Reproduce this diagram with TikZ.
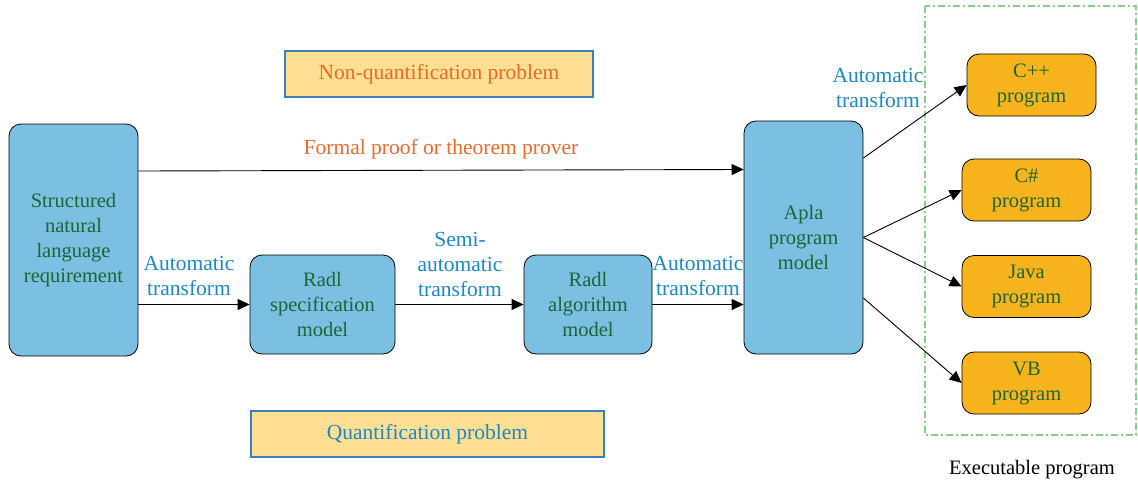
\documentclass[tikz,border=0pt]{standalone}
\usepackage{fontspec}
\setmainfont{Liberation Serif}
\usetikzlibrary{arrows.meta}

\definecolor{boxblue}{HTML}{7BBFE3}
\definecolor{boxorange}{HTML}{F8B41C}
\definecolor{probfill}{HTML}{FFDF91}
\definecolor{probline}{HTML}{3A7FC4}
\definecolor{textgreen}{HTML}{1F6433}
\definecolor{labelblue}{HTML}{1A88C9}
\definecolor{labelorange}{HTML}{EB6A2A}
\definecolor{dashgreen}{HTML}{86CF86}

\begin{document}
\begin{tikzpicture}[x=1pt,y=-1pt,->,>={Triangle[length=12pt,width=11pt]},
  line width=0.9pt,font=\fontsize{20.5}{25}\selectfont,
  model node/.style={draw=black,fill=boxblue,rounded corners=12pt,
    line width=0.8pt,text=textgreen,align=center,inner sep=0pt},
  lang node/.style={draw=black,fill=boxorange,rounded corners=12pt,
    line width=0.8pt,text=textgreen,align=center,inner sep=0pt,
    minimum width=129pt,minimum height=62pt},
  prob node/.style={draw=probline,fill=probfill,line width=1.4pt,
    inner sep=0pt,minimum height=46pt,font=\fontsize{21.5}{25}\selectfont},
  trans label/.style={text=labelblue,align=center,inner sep=0pt,
    font=\fontsize{21.5}{25}\selectfont}]

  \useasboundingbox (0,0) rectangle (1138,485);

  % executable program frame
  \draw[-,dashgreen,line width=1.5pt,
    dash pattern=on 7pt off 3pt on 2pt off 3pt]
    (925,6) rectangle (1136,435);
  \node[inner sep=0pt] (exe) at (1032,470) {Executable program};

  \node[model node,minimum width=129pt,minimum height=232pt]
    (snl) at (73.5,240) {Structured\\natural\\language\\requirement};
  \node[model node,minimum width=145pt,minimum height=99pt]
    (rspec) at (322.5,304.5) {Radl\\specification\\model};
  \node[model node,minimum width=128pt,minimum height=99pt]
    (ralg) at (588,304.5) {Radl\\algorithm\\model};
  \node[model node,minimum width=119pt,minimum height=233pt]
    (apla) at (803.5,237.5) {Apla\\program\\model};

  \node[lang node] (cpp) at (1031.5,85) {C++\\program};
  \node[lang node] (csh) at (1026.5,190) {C\#\\program};
  \node[lang node] (java) at (1026.5,286.5) {Java\\program};
  \node[lang node] (vb) at (1026.5,383) {VB\\program};

  \node[prob node,minimum width=308pt,text=labelorange]
    (nonq) at (439,74) {Non-quantification problem};
  \node[prob node,minimum width=353pt,text=labelblue]
    (quant) at (427.5,434) {Quantification problem};

  % transforms along the chain
  \draw (snl.east |- rspec.west) -- (rspec.west);
  \draw (rspec) -- (ralg);
  \draw (ralg) -- (apla.west |- ralg.east);
  \draw ([yshift=69pt]snl.east) -- ([yshift=68pt]apla.west);

  \node[trans label] (t1) at (189,276) {Automatic\\transform};
  \node[trans label] (t2) at (460,264) {Semi-\\automatic\\transform};
  \node[trans label] (t3) at (698,276) {Automatic\\transform};
  \node[trans label] (t4) at (878,88) {Automatic\\transform};
  \node[trans label,text=labelorange] (fp) at (441,149)
    {Formal proof or theorem prover};

  % code generation
  \draw ([yshift=79.5pt]apla.east) -- (cpp.west);
  \draw (apla.east) -- (csh.west);
  \draw (apla.east) -- (java.west);
  \draw ([yshift=-60.5pt]apla.east) -- (vb.west);
\end{tikzpicture}
\end{document}
